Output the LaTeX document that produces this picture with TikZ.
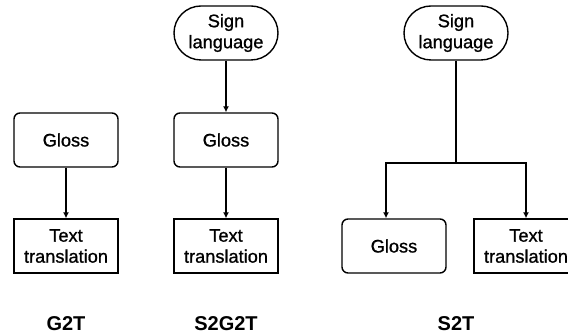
\documentclass[tikz,border=0pt]{standalone}
\usepackage{fontspec}
\setmainfont{Liberation Sans}
\newfontfamily\medfont[FakeBold=1]{Liberation Sans}
\usepackage{tikz}
\usetikzlibrary{arrows.meta}

\begin{document}
\begin{tikzpicture}[x=1pt,y=1pt,line width=1.4pt,>={Latex[length=6pt,width=6pt]},
    box/.style={draw,minimum width=104pt,minimum height=54pt,inner sep=0pt,align=center,font=\medfont\fontsize{18.2}{21}\selectfont},
    gloss/.style={box,rounded corners=6pt},
    sign/.style={box,rounded corners=27pt},
    title/.style={font=\fontsize{20}{24}\selectfont\bfseries}]
  \useasboundingbox (0,0) rectangle (568,334);

  % G2T
  \draw (66,194) node[gloss] (gloss1) {Gloss};
  \draw (66,88) node[box] (text1) {Text\\translation};
  \draw (66,10) node[title] (g2t) {G2T};

  % S2G2T
  \draw (226,301) node[sign] (sign2) {Sign\\language};
  \draw (226,194) node[gloss] (gloss2) {Gloss};
  \draw (226,88) node[box] (text2) {Text\\translation};
  \draw (226,10) node[title] (s2g2t) {S2G2T};

  % S2T
  \draw (456,301) node[sign] (sign3) {Sign\\language};
  \draw (394,88) node[gloss] (gloss3) {Gloss};
  \draw (526,88) node[box] (text3) {Text\\translation};
  \draw (456,10) node[title] (s2t) {S2T};
  \coordinate (split) at (456,171);

  \draw[->] (gloss1) -- (text1);
  \draw[->] (sign2) -- (gloss2);
  \draw[->] (gloss2) -- (text2);
  \draw (sign3) -- (split);
  \draw[->] (split) -| ([xshift=-8pt]gloss3.north);
  \draw[->] (split) -| (text3.north);
\end{tikzpicture}
\end{document}
